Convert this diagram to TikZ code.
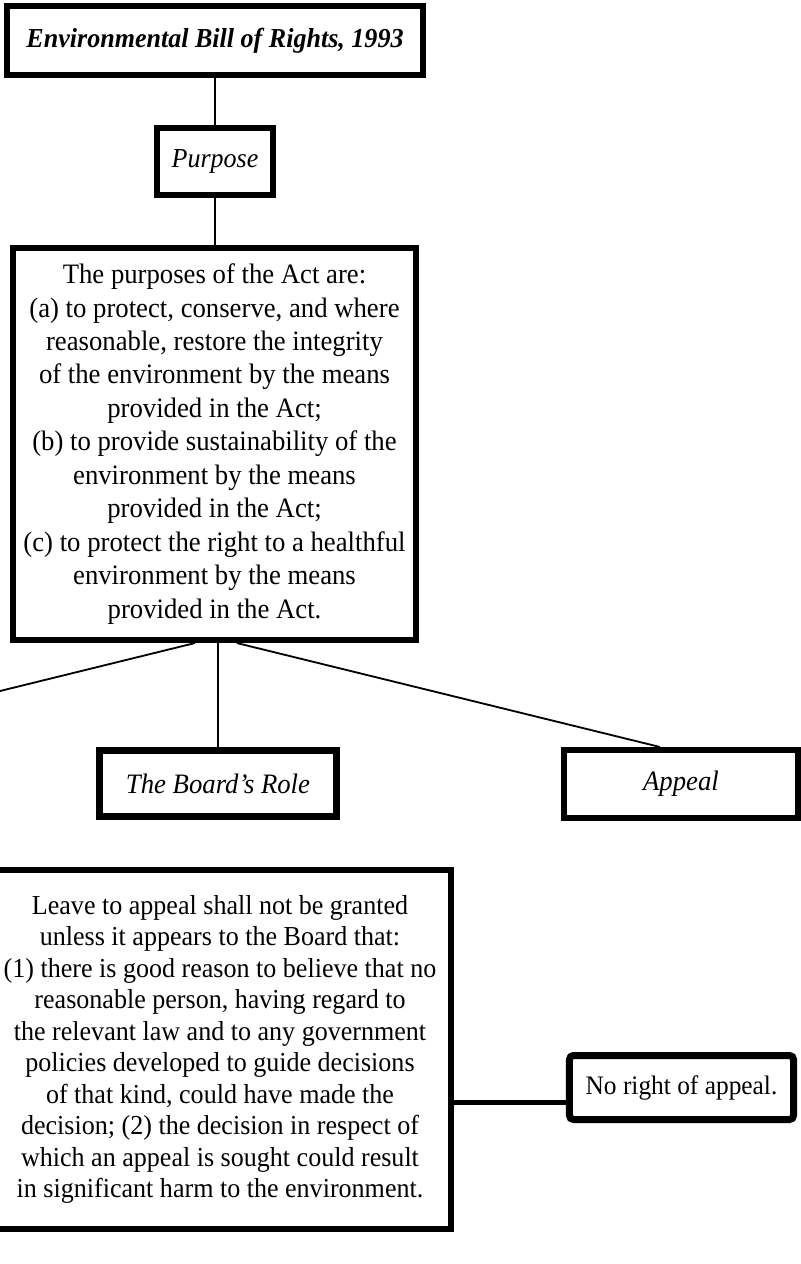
\documentclass[tikz,border=0pt]{standalone}
\usepackage{fontspec}
\setmainfont{Liberation Serif}[FakeStretch=0.95]

\begin{document}
\begin{tikzpicture}[x=0.025cm,y=-0.025cm,
        box/.style={draw,line width=0.15cm,inner sep=0pt,align=center},
        link/.style={line width=1.3pt}]
	\useasboundingbox (0,0) rectangle (801,1264);
	\clip (0,0) rectangle (801,1264);
	\node[box,minimum width=10.4cm,minimum height=1.725cm,font=\fontsize{19.5}{24}\selectfont\bfseries\itshape] (ebr) at (215,40.5) {Environmental Bill of Rights, 1993}; % Title
	\node[box,minimum width=2.9cm,minimum height=1.675cm,font=\fontsize{19.5}{24}\selectfont\itshape] (purpose) at (215,161.5) {Purpose};
	\node[box,minimum width=10.075cm,minimum height=9.8cm,font=\fontsize{20}{23.8}\selectfont] (purposes) at (214.5,444) {The purposes of the Act are:\\ (a) to protect, conserve, and where\\ reasonable, restore the integrity\\ of the environment by the means\\ provided in the Act;\\ (b) to provide sustainability of the\\ environment by the means\\ provided in the Act;\\ (c) to protect the right to a healthful\\ environment by the means\\ provided in the Act.};
	\node[box,line width=0.175cm,minimum width=5.925cm,minimum height=1.65cm,font=\fontsize{20}{24}\selectfont\itshape] (board) at (218,783.5) {The Board's Role};
	\node[box,minimum width=5.85cm,minimum height=1.7cm,font=\fontsize{20}{24}\selectfont\itshape] (appeal) at (681,784) {Appeal};
	\node[box,minimum width=11.55cm,minimum height=8.975cm,font=\fontsize{19.5}{22.4}\selectfont] (leave) at (220,1049.5) {Leave to appeal shall not be granted\\ unless it appears to the Board that:\\ (1) there is good reason to believe that no\\ reasonable person, having regard to\\ the relevant law and to any government\\ policies developed to guide decisions\\ of that kind, could have made the\\ decision; (2) the decision in respect of\\ which an appeal is sought could result\\ in significant harm to the environment.};
	\node[box,line width=0.175cm,rounded corners=0.1cm,minimum width=5.6cm,minimum height=1.6cm,font=\fontsize{19}{24}\selectfont] (noright) at (681.5,1087.5) {No right of appeal.};
	\coordinate (offleft) at (-100,715.6); % towards a box out of frame
	\coordinate (tie) at (0,1102);
	\draw[link] (ebr) -- (purpose);
	\draw[link] (purpose.south) -- (purpose.south |- purposes.north);
	\draw[link] ([xshift=-0.49cm]purposes.south) -- (offleft);
	\draw[link] (board.north |- purposes.south) -- (board.north);
	\draw[link] ([xshift=0.56cm]purposes.south) -- ([xshift=-0.525cm]appeal.north);
	\draw[line width=0.125cm] (leave.east |- tie) -- (noright.west |- tie);
\end{tikzpicture}
\end{document}
